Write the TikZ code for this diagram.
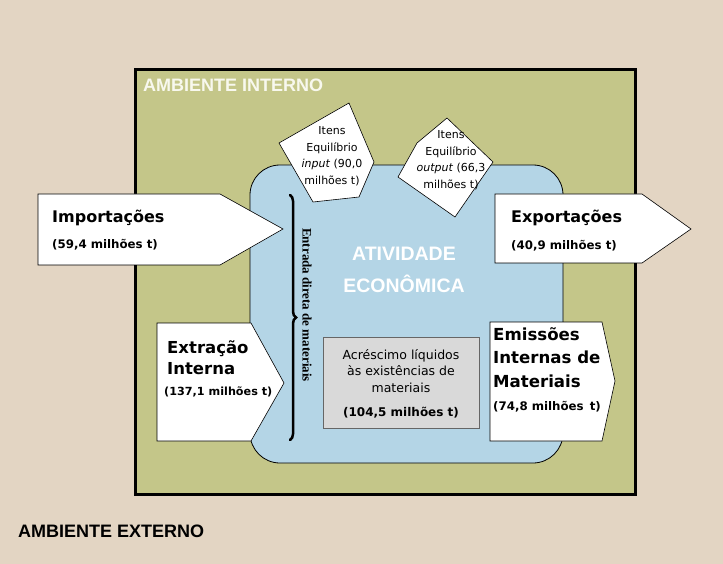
\documentclass[tikz,border=0pt]{standalone}
\usepackage{fontspec}
\setmainfont{DejaVu Sans}
\newfontfamily\arialf{Liberation Sans}
\newfontfamily\timesf{Liberation Serif}
\usetikzlibrary{positioning, decorations.pathreplacing}
\definecolor{externo}{HTML}{E3D5C3}
\definecolor{interno}{HTML}{C4C689}
\definecolor{atividade}{HTML}{B4D5E6}
\definecolor{estoque}{HTML}{D9D9D9}
\definecolor{claro}{HTML}{F8F8EE}
\newcommand\setfs[2]{\fontsize{#1}{#2}\selectfont}
\tikzset{
	flowshape/.style={
		draw,
		fill=white,
		line width=0.6pt
	},
	titulo/.style={
		inner sep=0pt,
		anchor=base west,
		font={\setfs{18}{20}\arialf\bfseries}
	},
	nome/.style={
		inner sep=0pt,
		anchor=base west,
		font={\setfs{16}{19}\bfseries}
	},
	valor/.style={
		inner sep=0pt,
		anchor=base west,
		font={\setfs{11.8}{15}\bfseries}
	},
	equil/.style={
		inner sep=0pt,
		align=center,
		font={\setfs{11}{16.5}}
	}
}

\begin{document}
\begin{tikzpicture}[x=1pt, y=-1pt]
	\useasboundingbox (0,0) rectangle (723,564);
	% ambiente externo
	\fill[externo] (0,0) rectangle (723,564);
	% ambiente interno
	\draw[fill=interno, line width=3pt] (135,70) rectangle (635,494);
	% atividade economica
	\draw[fill=atividade, line width=0.8pt, rounded corners=30pt] (250,165) rectangle (563,463);
	
	% itens de equilibrio
	\draw[flowshape] (349,103) -- (374,162) -- (359,197) -- (313,202) -- (279,143) -- cycle;
	\draw[flowshape] (447,118) -- (493,162) -- (455,217) -- (398,177) -- (417,143) -- cycle;
	\node[equil] (eqin) at (332,156) {Itens\\Equilíbrio\\\textit{input} (90,0\\milhões t)};
	\node[equil] (eqout) at (451,160) {Itens\\Equilíbrio\\\textit{output} (66,3\\milhões t)};
	
	% entrada direta
	\coordinate (bt) at (290,195);
	\coordinate (bb) at (290,440);
	\draw[line width=2.5pt, line cap=round, decorate, decoration={brace, amplitude=6pt}] (bt) -- (bb);
	\node[rotate=-90, inner sep=0pt, font={\setfs{13}{15}\timesf\bfseries}] (entrada) at (307,305) {Entrada direta de materiais};
	
	% fluxos
	\draw[flowshape] (38,194) -- (220,194) -- (283,229) -- (220,265) -- (38,265) -- cycle;
	\node[nome] (imp) at (52,223) {Importações};
	\node[valor] (impv) at (52,249) {(59,4 milhões t)};
	
	\draw[flowshape] (495,194) -- (642,194) -- (691,229) -- (642,263) -- (495,263) -- cycle;
	\node[nome] (exp) at (511,223) {Exportações};
	\node[valor] (expv) at (511,250) {(40,9 milhões t)};
	
	\draw[flowshape] (157,323) -- (251,323) -- (284,383) -- (251,441) -- (157,441) -- cycle;
	\node[nome, align=left, font={\setfs{16.5}{21}\bfseries}] (ext) at (167,374) {Extração\\Interna};
	\node[valor, font={\setfs{11.2}{15}\bfseries}] (extv) at (164,395) {(137,1 milhões t)};
	
	\draw[flowshape] (490,322) -- (602,322) -- (615,381) -- (602,441) -- (490,441) -- cycle;
	\node[nome, align=left, font={\setfs{16.6}{23.5}\bfseries}] (emi) at (493,387) {Emissões\\Internas de\\Materiais};
	\node[valor] (emiv) at (493,410) {(74,8 milhões\, t)};
	
	% acrescimo de estoque
	\draw[fill=estoque, draw=gray!80!black, line width=0.6pt] (323,337) rectangle (479,428);
	\node[inner sep=0pt, align=center, font={\setfs{12.5}{16.5}}] (acr) at (401,371) {Acréscimo líquidos\\às existências de\\materiais};
	\node[inner sep=0pt, anchor=base, font={\setfs{12}{15}\bfseries}] (acrv) at (401,416) {(104,5 milhões t)};
	
	% rotulos
	\node[inner sep=0pt, align=center, text=white, font={\setfs{19.5}{32}\arialf\bfseries}] (ativ) at (404,270) {ATIVIDADE\\ECONÔMICA};
	\node[titulo, text=claro] (amint) at (143,92) {AMBIENTE INTERNO};
	\node[titulo] (amext) at (18,537) {AMBIENTE EXTERNO};
\end{tikzpicture}
\end{document}
